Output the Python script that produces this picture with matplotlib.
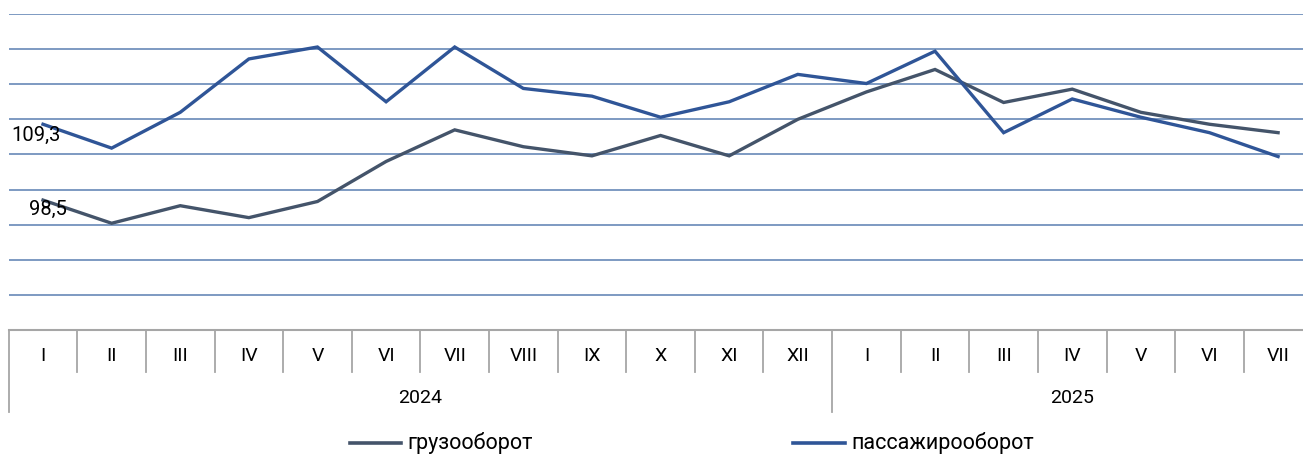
import matplotlib
matplotlib.use('Agg')
import matplotlib.pyplot as plt
from matplotlib.lines import Line2D

plt.rcParams['font.family'] = ['Roboto', 'DejaVu Sans']

months = ['I', 'II', 'III', 'IV', 'V', 'VI', 'VII', 'VIII', 'IX', 'X', 'XI', 'XII',
          'I', 'II', 'III', 'IV', 'V', 'VI', 'VII']
years = ['2024', '2025']
year_len = [12, 7]

# грузооборот / пассажирооборот, %
freight = [98.5, 95.2, 97.7, 96.0, 98.3, 104.0, 108.5, 106.1, 104.8, 107.7, 104.8, 110.0,
           113.9, 117.1, 112.4, 114.3, 111.0, 109.3, 108.1]
passenger = [109.3, 105.9, 111.0, 118.6, 120.3, 112.5, 120.3, 114.4, 113.3, 110.3, 112.5, 116.4,
             115.1, 119.7, 108.1, 112.9, 110.3, 108.1, 104.7]
names = ['грузооборот', 'пассажирооборот']

W, H = 1303, 454
fig = plt.figure(figsize=(W / 100, H / 100), dpi=100)
# plot area runs past the right edge of the picture, as in the original
ax = fig.add_axes([8.7 / W, 124 / H, 1303.7 / W, 316 / H])

FREIGHT_C = '#44546A'
PASS_C = '#2F5597'
GRID_C = '#7D9AC2'
AXIS_C = '#A6A6A6'

x = list(range(len(months)))
ax.plot(x, freight, color=FREIGHT_C, lw=2.4, solid_joinstyle='miter', zorder=3)
ax.plot(x, passenger, color=PASS_C, lw=2.4, solid_joinstyle='miter', zorder=3)

ax.set_xlim(-0.5, len(months) - 0.5)
ax.set_ylim(80, 125)
ax.set_yticks(range(85, 126, 5))
ax.yaxis.grid(True, color=GRID_C, lw=1.4)
ax.tick_params(left=False, labelleft=False, bottom=False, labelbottom=False)
for s in ['left', 'right', 'top']:
    ax.spines[s].set_visible(False)
ax.spines['bottom'].set_color(AXIS_C)
ax.spines['bottom'].set_linewidth(1.5)

# data labels on the first points
ax.annotate(str(passenger[0]).replace('.', ','), (0, passenger[0]), xytext=(12.5, -8.0),
            textcoords='offset points', ha='right', va='center', fontsize=14.5)
ax.annotate(str(freight[0]).replace('.', ','), (0, freight[0]), xytext=(17.5, -7.0),
            textcoords='offset points', ha='right', va='center', fontsize=14.5)


def yf(py):
    # figure pixel row (from top) -> axes fraction
    return (H - py - 124) / 316


tr = ax.get_xaxis_transform()
bounds = [0]
for n in year_len:
    bounds.append(bounds[-1] + n)
for i in range(len(months) + 1):
    bottom = 412 if i in bounds else 372
    ax.plot([i - 0.5, i - 0.5], [0, yf(bottom)], transform=tr, color=AXIS_C,
            lw=1.3, clip_on=False)
for i, m in enumerate(months):
    ax.text(i, yf(356), m, transform=tr, ha='center', va='center', fontsize=14)
for k, yr in enumerate(years):
    c = (bounds[k] + bounds[k + 1] - 1) / 2
    ax.text(c, yf(398), yr, transform=tr, ha='center', va='center', fontsize=14)

# legend (kept just inside the bottom edge)
for (x0, x1, tx), nm, col in zip([(350, 401, 407), (793, 845, 851)], names,
                                 [FREIGHT_C, PASS_C]):
    fig.add_artist(Line2D([x0 / W, x1 / W], [(H - 443) / H] * 2, color=col, lw=2.6))
    fig.text(tx / W, (H - 449) / H, nm, ha='left', va='baseline', fontsize=15.5)

fig.savefig('out.png', dpi=100)
